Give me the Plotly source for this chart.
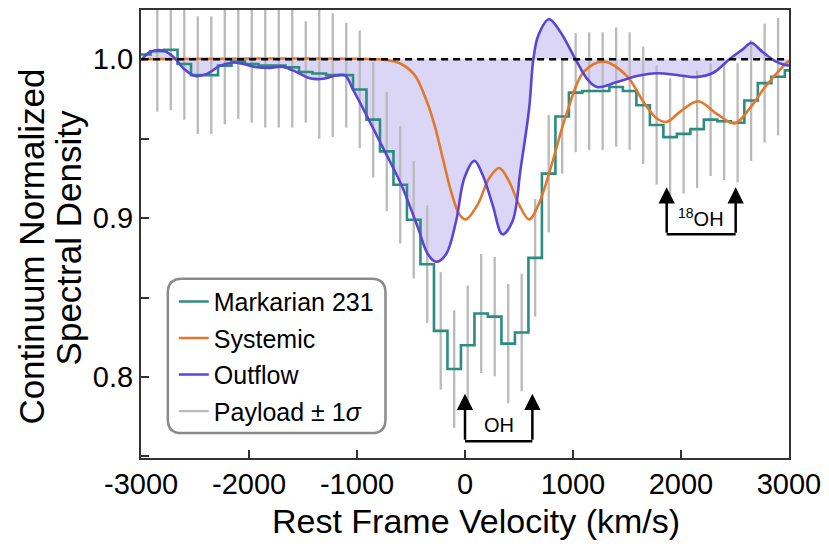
import plotly.graph_objects as go

# ---- Markarian 231 spectrum, 125 km/s bins (centres in km/s) ----
bin_centers = [-2975 + 125 * i for i in range(49)]
mrk231_flux = [
    1.003, 1.005, 1.006, 0.997, 0.990, 0.990, 0.996, 0.9985, 0.997, 0.996,
    0.996, 0.995, 0.992, 0.991, 0.990, 0.990, 0.981, 0.962, 0.942, 0.921,
    0.899, 0.871, 0.829, 0.805, 0.820, 0.840, 0.838, 0.821, 0.828, 0.875,
    0.928, 0.964, 0.979, 0.980, 0.980, 0.9825, 0.980, 0.971, 0.9586, 0.951,
    0.953, 0.956, 0.962, 0.961, 0.960, 0.974, 0.985, 0.989, 0.993,
]

# payload +/- 1 sigma for the bins from -2850 to 2900 km/s
payload_velocity = bin_centers[1:-1]
payload_flux = mrk231_flux[1:-1]
payload_sigma = [
    0.038, 0.038, 0.035, 0.037, 0.037, 0.037, 0.036, 0.037, 0.039, 0.039,
    0.038, 0.032, 0.041, 0.039, 0.033, 0.037, 0.0365, 0.0375, 0.037, 0.037,
    0.037, 0.037, 0.037, 0.0375, 0.0375, 0.0375, 0.0375, 0.037, 0.037, 0.037,
    0.036, 0.0375, 0.037, 0.037, 0.0375, 0.037, 0.037, 0.0375, 0.037, 0.0375,
    0.037, 0.0355, 0.037, 0.0375, 0.038, 0.0375, 0.037,
]

# ---- model components ----
systemic_velocity = [-3000, -800, -700, -590, -466, -374, -282, -206, -129, -52,
                     9, 117, 225, 317, 409, 501, 594, 690, 793, 947,
                     1100, 1285, 1500, 1654, 1777, 1869, 1991, 2160, 2329, 2498,
                     2636, 2790, 2959, 3000]
systemic_flux = [1.000, 1.000, 0.9992, 0.997, 0.990, 0.977, 0.9586, 0.9377, 0.9169, 0.9023,
                 0.8992, 0.9085, 0.9252, 0.9315, 0.923, 0.9085, 0.8992, 0.910, 0.9315, 0.967,
                 0.992, 0.9985, 0.9894, 0.9731, 0.9627, 0.9606, 0.9669, 0.9736, 0.9658, 0.9596,
                 0.969, 0.9835, 0.9965, 0.999]

outflow_velocity = [-3000, -2912, -2789, -2697, -2605, -2498, -2390, -2267, -2144, -2052,
                    -1929, -1806, -1683, -1560, -1438, -1314, -1192, -1111, -1038, -897,
                    -743, -590, -436, -344, -267, -175, -83, -6, 87, 163,
                    255, 347, 440, 516, 594, 633, 679, 778, 885, 1023,
                    1131, 1223, 1408, 1592, 1776, 1991, 2145, 2299, 2452, 2575,
                    2652, 2759, 2882, 2959, 3000]
outflow_flux = [0.9995, 1.0048, 1.0054, 1.0013, 0.994, 0.9894, 0.9908, 0.996, 0.998, 0.997,
                0.995, 0.9946, 0.9952, 0.9919, 0.988, 0.9877, 0.9898, 0.9898, 0.981, 0.9627,
                0.942, 0.921, 0.894, 0.8773, 0.8725, 0.8773, 0.898, 0.9252, 0.936, 0.9273,
                0.9085, 0.8898, 0.898, 0.9315, 0.969, 1.000, 1.015, 1.0252, 1.017, 1.000,
                0.9877, 0.9825, 0.9856, 0.9894, 0.9912, 0.9898, 0.9888, 0.9915, 1.0002, 1.0064,
                1.0102, 1.0044, 0.9985, 0.9965, 0.996]

CONTINUUM = 1.0

# line markers: OH doublet and 18OH doublet (km/s)
oh_lines = [0, 624]
oh18_lines = [1868, 2507]

x_ticks = [-3000, -2000, -1000, 0, 1000, 2000, 3000]
x_tick_text = ["-3000", "-2000", "-1000", "0", "1000", "2000", "3000"]
y_ticks = [0.8, 0.9, 1.0]
y_tick_text = ["0.8", "0.9", "1.0"]

TEAL = "#2c8c80"
ORANGE = "#e2782c"
PURPLE = "#5a45d4"
GREY = "#bababa"
FILL = "rgba(110, 90, 220, 0.25)"

FONT = "Liberation Sans, Arial, sans-serif"

fig = go.Figure()

# shaded outflow absorption relative to the continuum
fig.add_trace(go.Scatter(x=outflow_velocity, y=[CONTINUUM] * len(outflow_velocity),
                         mode="lines", line=dict(width=0, color=FILL),
                         showlegend=False, hoverinfo="skip"))
fig.add_trace(go.Scatter(x=outflow_velocity, y=outflow_flux, mode="lines",
                         line=dict(width=0, shape="spline", color=FILL),
                         fill="tonexty", fillcolor=FILL,
                         showlegend=False, hoverinfo="skip"))

# payload uncertainties
fig.add_trace(go.Scatter(x=payload_velocity, y=payload_flux, mode="markers",
                         marker=dict(size=1, opacity=0),
                         error_y=dict(type="data", array=payload_sigma, visible=True,
                                      color=GREY, thickness=2.3, width=0),
                         showlegend=False))

# binned spectrum as steps
edges = [c - 62.5 for c in bin_centers] + [bin_centers[-1] + 62.5]
fig.add_trace(go.Scatter(x=edges, y=mrk231_flux + [mrk231_flux[-1]], mode="lines",
                         line=dict(color=TEAL, width=2.6, shape="hv"),
                         name="Markarian 231", legendrank=1, legendgroup="a"))

fig.add_trace(go.Scatter(x=systemic_velocity, y=systemic_flux, mode="lines",
                         line=dict(color=ORANGE, width=2.6, shape="spline"),
                         name="Systemic", legendrank=2, legendgroup="b"))

fig.add_trace(go.Scatter(x=outflow_velocity, y=outflow_flux, mode="lines",
                         line=dict(color=PURPLE, width=2.6, shape="spline"),
                         name="Outflow", legendrank=3, legendgroup="c"))

fig.add_trace(go.Scatter(x=[None], y=[None], mode="lines",
                         line=dict(color=GREY, width=2.3),
                         name="Payload \u00b1 1<i>\u03c3</i>", legendrank=4, legendgroup="d"))

# continuum level
fig.add_shape(type="line", xref="x", yref="y", x0=-3000, x1=3000,
              y0=CONTINUUM, y1=CONTINUUM, layer="above",
              line=dict(color="black", width=2.5, dash="7px,5px"))


def bracket(lines, base, tip, label, label_y):
    for v in lines:
        fig.add_annotation(x=v, y=tip, ax=v, ay=base, xref="x", yref="y",
                           axref="x", ayref="y", text="", showarrow=True,
                           arrowhead=2, arrowsize=1.3, arrowwidth=2.5,
                           arrowcolor="black", standoff=0)
    fig.add_shape(type="line", xref="x", yref="y", x0=lines[0], x1=lines[1],
                  y0=base, y1=base, layer="above",
                  line=dict(color="black", width=2.5))
    fig.add_annotation(x=(lines[0] + lines[1]) / 2, y=label_y, xref="x", yref="y",
                       text=label, showarrow=False,
                       font=dict(family=FONT, size=20, color="black"))


bracket(oh_lines, 0.7596, 0.7895, "OH", 0.7695)
bracket(oh18_lines, 0.8898, 0.9195, "<sup>18</sup>OH", 0.9005)

# plot-area geometry in pixels
W, H = 829, 546
L, R, T, B = 141, 36, 8, 88
pw, ph = W - L - R, H - T - B


def px(x):
    return (x - L) / pw


def py(y):
    return (H - B - y) / ph


# rounded frame around the legend
lx0, lx1, ly0, ly1, rad = 168, 387, 278, 433, 14
rx, ry = rad / pw, rad / ph
X0, X1, Y0, Y1 = px(lx0), px(lx1), py(ly1), py(ly0)
path = (f"M {X0 + rx},{Y0} L {X1 - rx},{Y0} Q {X1},{Y0} {X1},{Y0 + ry} "
        f"L {X1},{Y1 - ry} Q {X1},{Y1} {X1 - rx},{Y1} "
        f"L {X0 + rx},{Y1} Q {X0},{Y1} {X0},{Y1 - ry} "
        f"L {X0},{Y0 + ry} Q {X0},{Y0} {X0 + rx},{Y0} Z")
fig.add_shape(type="path", xref="paper", yref="paper", path=path,
              line=dict(color="#8a8a8a", width=2.5), layer="above")

# y-axis title in two lines
fig.add_annotation(x=px(31), y=py(246), xref="paper", yref="paper",
                   text="Continuum Normalized", textangle=-90, showarrow=False,
                   xanchor="center", yanchor="middle",
                   font=dict(family=FONT, size=35, color="black"))
fig.add_annotation(x=px(69), y=py(237), xref="paper", yref="paper",
                   text="Spectral Density", textangle=-90, showarrow=False,
                   xanchor="center", yanchor="middle",
                   font=dict(family=FONT, size=35, color="black"))

# x-axis title
fig.add_annotation(x=px(478), y=py(521), xref="paper", yref="paper",
                   text="Rest Frame Velocity (km/s)", showarrow=False,
                   xanchor="center", yanchor="middle",
                   font=dict(family=FONT, size=34, color="black"))

axis_common = dict(showline=True, linecolor="#333333", linewidth=2, mirror=True,
                   ticks="inside", ticklen=8, tickwidth=2, tickcolor="#333333",
                   showgrid=False, zeroline=False,
                   tickfont=dict(family=FONT, size=29, color="black"))

fig.update_layout(
    width=W, height=H,
    margin=dict(l=L, r=R, t=T, b=B, pad=0),
    paper_bgcolor="white", plot_bgcolor="white",
    xaxis=dict(range=[-3001, 3001], tickvals=x_ticks, ticktext=x_tick_text,
               ticklabelstandoff=-1, **axis_common),
    yaxis=dict(range=[0.749, 1.031], tickvals=y_ticks, ticktext=y_tick_text,
               minor=dict(tickvals=[0.75, 0.85, 0.95], ticks="inside", ticklen=8,
                          tickwidth=2, tickcolor="#333333"),
               **axis_common),
    legend=dict(x=px(174), y=py(278), xanchor="left", yanchor="top",
                traceorder="grouped", tracegroupgap=1,
                bgcolor="rgba(0,0,0,0)", borderwidth=0,
                itemwidth=30, font=dict(family=FONT, size=25, color="black")),
    showlegend=True,
)

fig.write_html("out.html")
